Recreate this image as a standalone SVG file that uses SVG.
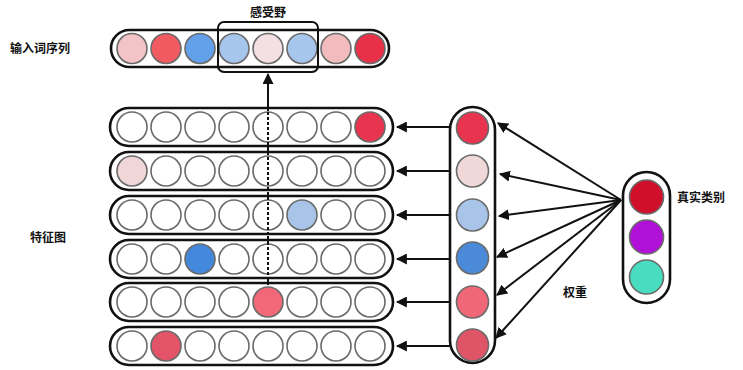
<svg xmlns="http://www.w3.org/2000/svg" width="743" height="370" viewBox="0 0 743 370">
  <defs>
    <style>
      .cap{fill:none;stroke:#111;stroke-width:2.6}
      .c{fill:#fff;stroke:#6a6a6a;stroke-width:1.6}
      .conn{stroke:#111;stroke-width:2;fill:none}
      .lbl{font-family:"Noto Sans CJK SC","Noto Sans",sans-serif;font-weight:bold;font-size:12px;fill:#111}
    </style>
    <marker id="ah" viewBox="0 0 10 10" refX="9" refY="5" markerWidth="5.5" markerHeight="5.5" orient="auto-start-reverse">
      <path d="M0,0 L10,5 L0,10 Z" fill="#111"/>
    </marker>
  </defs>
  <rect width="743" height="370" fill="#fff"/>

  <!-- input word sequence -->
  <g id="input-seq">
    <rect class="cap" x="111" y="30" width="278" height="37" rx="18.5"/>
    <circle class="c" cx="132" cy="48.5" r="15" style="fill:#f2c4c8"/>
    <circle class="c" cx="166" cy="48.5" r="15" style="fill:#f25a62"/>
    <circle class="c" cx="200" cy="48.5" r="15" style="fill:#62a0ea"/>
    <circle class="c" cx="234" cy="48.5" r="15" style="fill:#a6c6ee"/>
    <circle class="c" cx="268" cy="48.5" r="15" style="fill:#f4e0e2"/>
    <circle class="c" cx="302" cy="48.5" r="15" style="fill:#a6c6ee"/>
    <circle class="c" cx="336" cy="48.5" r="15" style="fill:#f2bcbe"/>
    <circle class="c" cx="370" cy="48.5" r="15" style="fill:#e83048"/>
    <text class="lbl" x="10" y="53">输入词序列</text>
  </g>

  <!-- receptive field -->
  <g id="receptive-field">
    <rect x="218" y="22" width="100" height="50" rx="6" fill="none" stroke="#111" stroke-width="2"/>
    <text class="lbl" x="268" y="17" text-anchor="middle">感受野</text>
  </g>

  <!-- feature map rows -->
  <g id="feature-map">
    <g id="row1">
      <rect class="cap" x="110" y="108" width="283" height="38" rx="19"/>
      <circle class="c" cx="132" cy="127" r="15"/><circle class="c" cx="166" cy="127" r="15"/>
      <circle class="c" cx="200" cy="127" r="15"/><circle class="c" cx="234" cy="127" r="15"/>
      <circle class="c" cx="268" cy="127" r="15"/><circle class="c" cx="302" cy="127" r="15"/>
      <circle class="c" cx="336" cy="127" r="15"/><circle class="c" cx="370" cy="127" r="15" style="fill:#e8344e"/>
    </g>
    <g id="row2">
      <rect class="cap" x="110" y="152" width="283" height="38" rx="19"/>
      <circle class="c" cx="132" cy="171" r="15" style="fill:#f0d6d6"/><circle class="c" cx="166" cy="171" r="15"/>
      <circle class="c" cx="200" cy="171" r="15"/><circle class="c" cx="234" cy="171" r="15"/>
      <circle class="c" cx="268" cy="171" r="15"/><circle class="c" cx="302" cy="171" r="15"/>
      <circle class="c" cx="336" cy="171" r="15"/><circle class="c" cx="370" cy="171" r="15"/>
    </g>
    <g id="row3">
      <rect class="cap" x="110" y="196" width="283" height="38" rx="19"/>
      <circle class="c" cx="132" cy="215" r="15"/><circle class="c" cx="166" cy="215" r="15"/>
      <circle class="c" cx="200" cy="215" r="15"/><circle class="c" cx="234" cy="215" r="15"/>
      <circle class="c" cx="268" cy="215" r="15"/><circle class="c" cx="302" cy="215" r="15" style="fill:#a8c4e8"/>
      <circle class="c" cx="336" cy="215" r="15"/><circle class="c" cx="370" cy="215" r="15"/>
    </g>
    <g id="row4">
      <rect class="cap" x="110" y="240" width="283" height="38" rx="19"/>
      <circle class="c" cx="132" cy="259" r="15"/><circle class="c" cx="166" cy="259" r="15"/>
      <circle class="c" cx="200" cy="259" r="15" style="fill:#4488dc"/><circle class="c" cx="234" cy="259" r="15"/>
      <circle class="c" cx="268" cy="259" r="15"/><circle class="c" cx="302" cy="259" r="15"/>
      <circle class="c" cx="336" cy="259" r="15"/><circle class="c" cx="370" cy="259" r="15"/>
    </g>
    <g id="row5">
      <rect class="cap" x="110" y="283" width="283" height="38" rx="19"/>
      <circle class="c" cx="132" cy="302" r="15"/><circle class="c" cx="166" cy="302" r="15"/>
      <circle class="c" cx="200" cy="302" r="15"/><circle class="c" cx="234" cy="302" r="15"/>
      <circle class="c" cx="268" cy="302" r="15" style="fill:#f26878"/><circle class="c" cx="302" cy="302" r="15"/>
      <circle class="c" cx="336" cy="302" r="15"/><circle class="c" cx="370" cy="302" r="15"/>
    </g>
    <g id="row6">
      <rect class="cap" x="110" y="327" width="283" height="38" rx="19"/>
      <circle class="c" cx="132" cy="346" r="15"/><circle class="c" cx="166" cy="346" r="15" style="fill:#e45468"/>
      <circle class="c" cx="200" cy="346" r="15"/><circle class="c" cx="234" cy="346" r="15"/>
      <circle class="c" cx="268" cy="346" r="15"/><circle class="c" cx="302" cy="346" r="15"/>
      <circle class="c" cx="336" cy="346" r="15"/><circle class="c" cx="370" cy="346" r="15"/>
    </g>
    <text class="lbl" x="30" y="242">特征图</text>
  </g>

  <!-- weights column -->
  <g id="weights">
    <rect class="cap" x="450" y="107" width="45" height="256" rx="22.5"/>
    <circle class="c" cx="472.5" cy="128" r="16" style="fill:#e8344e"/>
    <circle class="c" cx="472.5" cy="171" r="16" style="fill:#f0d8d8"/>
    <circle class="c" cx="472.5" cy="215" r="16" style="fill:#a8c4e8"/>
    <circle class="c" cx="472.5" cy="258" r="16" style="fill:#4a8ad8"/>
    <circle class="c" cx="472.5" cy="302" r="16" style="fill:#f06878"/>
    <circle class="c" cx="472.5" cy="345" r="16" style="fill:#e05468"/>
    <text class="lbl" x="563" y="297">权重</text>
  </g>

  <!-- true class column -->
  <g id="true-class">
    <rect class="cap" x="623" y="172" width="47" height="131" rx="23.5"/>
    <circle class="c" cx="646.5" cy="197" r="17" style="fill:#d0102a"/>
    <circle class="c" cx="646.5" cy="237" r="17" style="fill:#b010d8"/>
    <circle class="c" cx="646.5" cy="277" r="17" style="fill:#48dcc0"/>
    <text class="lbl" x="677" y="202">真实类别</text>
  </g>

  <!-- connectors -->
  <g id="connectors">
    <!-- solid in the gaps, dashed where it crosses the white cells -->
    <line class="conn" x1="268" y1="285" x2="268" y2="74" stroke-dasharray="3 2" marker-end="url(#ah)"/>
    <line class="conn" x1="268" y1="285" x2="268" y2="280"/>
    <line class="conn" x1="268" y1="243" x2="268" y2="236"/>
    <line class="conn" x1="268" y1="199" x2="268" y2="192"/>
    <line class="conn" x1="268" y1="155" x2="268" y2="148"/>
    <line class="conn" x1="268" y1="111" x2="268" y2="78"/>
    <line class="conn" x1="450" y1="127" x2="397" y2="127" marker-end="url(#ah)"/>
    <line class="conn" x1="450" y1="171" x2="397" y2="171" marker-end="url(#ah)"/>
    <line class="conn" x1="450" y1="215" x2="397" y2="215" marker-end="url(#ah)"/>
    <line class="conn" x1="450" y1="259" x2="397" y2="259" marker-end="url(#ah)"/>
    <line class="conn" x1="450" y1="302" x2="397" y2="302" marker-end="url(#ah)"/>
    <line class="conn" x1="450" y1="346" x2="397" y2="346" marker-end="url(#ah)"/>
    <line class="conn" x1="621" y1="200" x2="498" y2="123" marker-end="url(#ah)"/>
    <line class="conn" x1="621" y1="200" x2="500" y2="174" marker-end="url(#ah)"/>
    <line class="conn" x1="621" y1="200" x2="499" y2="216" marker-end="url(#ah)"/>
    <line class="conn" x1="621" y1="200" x2="497" y2="257" marker-end="url(#ah)"/>
    <line class="conn" x1="621" y1="200" x2="497" y2="295" marker-end="url(#ah)"/>
    <line class="conn" x1="621" y1="200" x2="496" y2="338" marker-end="url(#ah)"/>
  </g>
</svg>
